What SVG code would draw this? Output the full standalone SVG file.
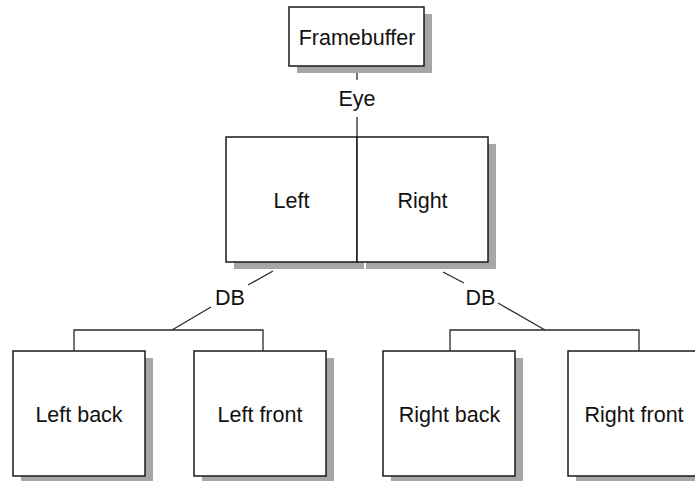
<svg xmlns="http://www.w3.org/2000/svg" width="695" height="481" viewBox="0 0 695 481">
<style>
.sh{fill:#a6a6a6;stroke:none}
.bx{fill:#fff;stroke:#1a1a1a;stroke-width:1.5}
.t{font-family:"Liberation Sans",Arial,sans-serif;font-size:21.5px;fill:#111;text-anchor:middle}
.c{fill:none;stroke:#2a2a2a;stroke-width:1.3}
</style>
<rect width="695" height="481" fill="#fff"/>
<g id="connectors">
<line class="c" x1="357" y1="66" x2="357" y2="80"/>
<line class="c" x1="357" y1="117" x2="357" y2="137"/>
<line class="c" x1="273" y1="271" x2="248" y2="285"/>
<line class="c" x1="211" y1="307" x2="172" y2="330"/>
<polyline class="c" points="74,351 74,330 263,330 263,351"/>
<line class="c" x1="443" y1="272" x2="464" y2="283"/>
<line class="c" x1="498" y1="303" x2="545" y2="330"/>
<polyline class="c" points="450,351 450,330 639,330 639,351"/>
<text class="t" x="357" y="106">Eye</text>
<text class="t" x="230" y="305">DB</text>
<text class="t" x="480.5" y="305">DB</text>
</g>
<g id="framebuffer">
<rect class="sh" x="297" y="14" width="135" height="59"/>
<rect class="bx" x="289" y="7" width="135" height="59"/>
<text class="t" x="357" y="45">Framebuffer</text>
</g>
<g id="left">
<rect class="sh" x="234" y="144" width="130" height="125"/>
<rect class="bx" x="226" y="137" width="131" height="125"/>
<text class="t" x="291.5" y="208">Left</text>
</g>
<g id="right">
<rect class="sh" x="366" y="144" width="130" height="125"/>
<rect class="bx" x="357" y="137" width="131" height="125"/>
<text class="t" x="422.5" y="208">Right</text>
</g>
<g id="left-back">
<rect class="sh" x="21" y="358" width="132" height="125"/>
<rect class="bx" x="13" y="351" width="132" height="125"/>
<text class="t" x="79" y="422">Left back</text>
</g>
<g id="left-front">
<rect class="sh" x="202" y="358" width="132" height="125"/>
<rect class="bx" x="194" y="351" width="132" height="125"/>
<text class="t" x="260" y="422">Left front</text>
</g>
<g id="right-back">
<rect class="sh" x="391" y="358" width="132" height="125"/>
<rect class="bx" x="383" y="351" width="132" height="125"/>
<text class="t" x="449.5" y="422">Right back</text>
</g>
<g id="right-front">
<rect class="sh" x="576" y="358" width="132" height="125"/>
<rect class="bx" x="568" y="351" width="132" height="125"/>
<text class="t" x="634" y="422">Right front</text>
</g>
</svg>
